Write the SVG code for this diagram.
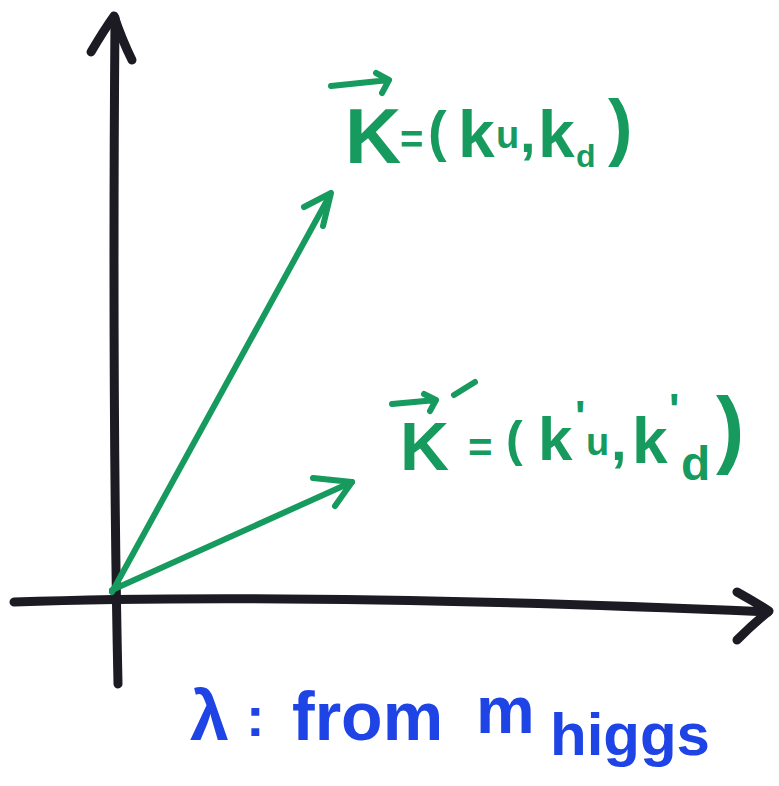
<svg xmlns="http://www.w3.org/2000/svg" width="779" height="786" viewBox="0 0 779 786">
<style>
.ax{fill:none;stroke:#1c1a22;stroke-width:9;stroke-linecap:round;stroke-linejoin:round}
.vec{fill:none;stroke:#169a5e;stroke-width:6;stroke-linecap:round;stroke-linejoin:round}
.gt{font-family:"Liberation Sans",Arial,sans-serif;fill:#169a5e;font-weight:bold}
.bt{font-family:"Liberation Sans",Arial,sans-serif;fill:#1f44e6;font-weight:bold}
</style>
<rect width="779" height="786" fill="#ffffff"/>
<g id="axes">
<path class="ax" d="M118,684 Q112,400 115,18"/>
<path class="ax" d="M91,52 Q104,30 114,16 Q122,40 132,60"/>
<path class="ax" d="M14,602 Q300,592 768,612"/>
<path class="ax" d="M737,592 Q755,602 769,611 Q752,625 737,640"/>
</g>
<g id="connectors">
<path class="vec" d="M112,592 L330,195"/>
<path class="vec" d="M304,207 L331,193 L323,226"/>
<path class="vec" d="M112,590 L352,482"/>
<path class="vec" d="M313,478 L352,482 L335,506"/>
</g>
<g id="label-k">
<path class="vec" d="M331,86 L389,80 M376,73 L389,80 L382,93"/>
<text class="gt"><tspan x="345" y="163" font-size="78">K</tspan><tspan x="400" y="153" font-size="40">=</tspan><tspan x="428" y="150" font-size="56">(</tspan><tspan x="458" y="157" font-size="66">k</tspan><tspan x="496" y="148" font-size="38">u</tspan><tspan x="520" y="152" font-size="56">,</tspan><tspan x="538" y="157" font-size="66">k</tspan><tspan x="576" y="167" font-size="32">d</tspan><tspan x="608" y="152" font-size="74">)</tspan></text>
</g>
<g id="label-kprime">
<path class="vec" d="M392,404 L436,400 M424,394 L436,400 L430,411 M454,395 L475,382"/>
<text class="gt"><tspan x="400" y="470" font-size="68">K</tspan><tspan x="468" y="462" font-size="42">=</tspan><tspan x="506" y="456" font-size="50">(</tspan><tspan x="538" y="460" font-size="62">k</tspan><tspan x="575" y="432" font-size="44">'</tspan><tspan x="586" y="455" font-size="38">u</tspan><tspan x="611" y="460" font-size="56">,</tspan><tspan x="632" y="463" font-size="64">k</tspan><tspan x="669" y="425" font-size="44">'</tspan><tspan x="681" y="480" font-size="48">d</tspan><tspan x="716" y="457" font-size="85">)</tspan></text>
</g>
<g id="label-lambda">
<text class="bt"><tspan x="190" y="740" font-size="70">λ</tspan><tspan x="246" y="736" font-size="56">:</tspan><tspan x="292" y="740" font-size="68">from</tspan><tspan x="476" y="733" font-size="66">m</tspan><tspan x="550" y="755" font-size="60">higgs</tspan></text>
</g>
</svg>
